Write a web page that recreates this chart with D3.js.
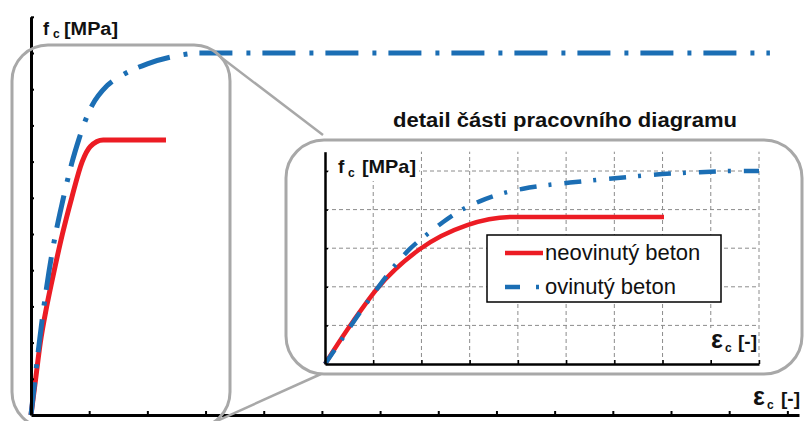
<!DOCTYPE html>
<html>
<head>
<meta charset="utf-8">
<script src="https://cdn.jsdelivr.net/npm/d3@7"></script>
<style>
  body { margin: 0; background: #fff; }
  svg { display: block; font-family: "Liberation Sans", Arial, sans-serif; }
</style>
</head>
<body>
<svg id="chart" width="804" height="421"></svg>
<script>
// main diagram (strain in tick units, stress in tick units)
var mainRedX = [0, 0.08, 0.16, 0.27, 0.40, 0.54, 0.70, 0.88, 1.02, 1.24, 2.32]
var mainRedY = [0, 1.0, 2.0, 3.0, 4.0, 5.0, 6.0, 7.0, 7.42, 7.6, 7.6]
var mainBlueX = [0, 0.07, 0.15, 0.27, 0.38, 0.55, 0.70, 0.82, 0.93, 1.05, 1.31, 1.56, 2.0, 2.5, 2.9, 12.7]
var mainBlueY = [0, 1.0, 2.1, 3.55, 4.64, 5.95, 6.95, 7.6, 8.12, 8.55, 9.1, 9.38, 9.7, 9.92, 10.0, 10.0]
var mainXTicks = [1, 2, 3, 4, 5, 6, 7, 8, 9, 10, 11, 12, 13]
var mainYTicks = [1, 2, 3, 4, 5, 6, 7, 8, 9, 10, 11]

// detail (inset)
var insetRedX = [0, 0.35, 0.58, 1.08, 1.97, 2.95, 3.9, 7.03]
var insetRedY = [0, 0.68, 1.1, 1.95, 2.98, 3.6, 3.81, 3.81]
var insetBlueX = [0, 0.35, 0.66, 1.14, 1.35, 1.76, 2.18, 2.45, 2.80, 3.22, 3.57, 4.11, 4.52, 5.08, 5.71, 6.33, 6.99, 7.61, 8.55, 9.0]
var insetBlueY = [0, 0.64, 1.22, 2.05, 2.4, 2.98, 3.42, 3.68, 3.97, 4.22, 4.38, 4.54, 4.62, 4.7, 4.78, 4.85, 4.92, 4.96, 5.0, 5.0]
var insetXTicks = [1, 2, 3, 4, 5, 6, 7, 8, 9]
var insetYTicks = [1, 2, 3, 4, 5]

var seriesNames = ['neovinutý beton', 'ovinutý beton']
var title = 'detail části pracovního diagramu'

var RED = '#ec1c24', BLUE = '#1b6eb4', FRAME = '#a8a8a8'

var svg = d3.select('#chart')

function zip(xs, ys) {
  return xs.map(function(x, i) { return [x, ys[i]] })
}

// ---------- main diagram ----------
var x = d3.scaleLinear().domain([0, 13.2]).range([31, 799])
var y = d3.scaleLinear().domain([0, 11]).range([415, 16.8])

var mainLine = d3.line()
  .x(function(d) { return x(d[0]) })
  .y(function(d) { return y(d[1]) })
  .curve(d3.curveMonotoneX)

svg.append('path')
  .attr('d', mainLine(zip(mainRedX, mainRedY)))
  .attr('fill', 'none').attr('stroke', RED).attr('stroke-width', 5)

svg.append('path')
  .attr('d', mainLine(zip(mainBlueX, mainBlueY)))
  .attr('fill', 'none').attr('stroke', BLUE).attr('stroke-width', 5)
  .attr('stroke-dasharray', '33,14,4,12')

var xAxis = svg.append('g')
  .attr('transform', 'translate(0,415)')
  .call(d3.axisTop(x).tickValues(mainXTicks).tickFormat('').tickSize(4).tickSizeOuter(0))
xAxis.select('.domain').attr('stroke', '#000').attr('stroke-width', 3)
xAxis.selectAll('.tick line').attr('stroke', '#000').attr('stroke-width', 2)

var yAxis = svg.append('g')
  .attr('transform', 'translate(31,0)')
  .call(d3.axisRight(y).tickValues(mainYTicks).tickFormat('').tickSize(3).tickSizeOuter(0))
yAxis.select('.domain').attr('stroke', '#000').attr('stroke-width', 3)
yAxis.selectAll('.tick line').attr('stroke', '#000').attr('stroke-width', 2)

// axis titles
svg.append('text').attr('x', 43).attr('y', 35)
  .attr('font-size', 18).attr('font-weight', 'bold').attr('fill', '#111').text('f')
svg.append('text').attr('x', 53).attr('y', 38)
  .attr('font-size', 12).attr('font-weight', 'bold').attr('fill', '#111').text('c')
svg.append('text').attr('x', 64).attr('y', 35)
  .attr('font-size', 18).attr('font-weight', 'bold').attr('fill', '#111')
  .attr('textLength', 54).attr('lengthAdjust', 'spacingAndGlyphs').text('[MPa]')

svg.append('text').attr('x', 753).attr('y', 405)
  .attr('font-size', 25).attr('font-weight', 'bold').attr('fill', '#111').text('ε')
svg.append('text').attr('x', 767).attr('y', 409)
  .attr('font-size', 12).attr('font-weight', 'bold').attr('fill', '#111').text('c')
svg.append('text').attr('x', 781).attr('y', 405)
  .attr('font-size', 19).attr('font-weight', 'bold').attr('fill', '#111').text('[-]')

// zoom frame on the main diagram
svg.append('rect')
  .attr('x', 12).attr('y', 45).attr('width', 218).attr('height', 383).attr('rx', 36)
  .attr('fill', 'none').attr('stroke', FRAME).attr('stroke-width', 3)

svg.append('line').attr('x1', 218).attr('y1', 55).attr('x2', 323).attr('y2', 135)
  .attr('stroke', FRAME).attr('stroke-width', 2.5)
svg.append('line').attr('x1', 208).attr('y1', 425).attr('x2', 321).attr('y2', 374)
  .attr('stroke', FRAME).attr('stroke-width', 2.5)

// ---------- inset ----------
svg.append('text')
  .attr('x', 393).attr('y', 127)
  .attr('font-size', 20).attr('font-weight', 'bold').attr('fill', '#111')
  .attr('textLength', 344).attr('lengthAdjust', 'spacingAndGlyphs')
  .text(title)

svg.append('rect')
  .attr('x', 286).attr('y', 140).attr('width', 516).attr('height', 234).attr('rx', 38)
  .attr('fill', '#fff').attr('stroke', FRAME).attr('stroke-width', 3)

var ix = d3.scaleLinear().domain([0, 9]).range([325, 759])
var iy = d3.scaleLinear().domain([0, 5.5]).range([364, 151.7])

var grid = svg.append('g')
  .attr('stroke', '#8c8c8c').attr('stroke-width', 1).attr('stroke-dasharray', '4,3')
grid.selectAll('line.v').data(insetXTicks).enter().append('line')
  .attr('class', 'v')
  .attr('x1', ix).attr('x2', ix)
  .attr('y1', iy(0)).attr('y2', iy(5.5))
grid.selectAll('line.h').data(insetYTicks).enter().append('line')
  .attr('class', 'h')
  .attr('x1', ix(0)).attr('x2', ix(9))
  .attr('y1', iy).attr('y2', iy)

// white boxes behind inset axis titles
svg.append('rect').attr('x', 330).attr('y', 151).attr('width', 89).attr('height', 30).attr('fill', '#fff')
svg.append('rect').attr('x', 706).attr('y', 328).attr('width', 51).attr('height', 30).attr('fill', '#fff')

var insetLine = d3.line()
  .x(function(d) { return ix(d[0]) })
  .y(function(d) { return iy(d[1]) })
  .curve(d3.curveMonotoneX)

svg.append('path')
  .attr('d', insetLine(zip(insetRedX, insetRedY)))
  .attr('fill', 'none').attr('stroke', RED).attr('stroke-width', 4.5)

svg.append('path')
  .attr('d', insetLine(zip(insetBlueX, insetBlueY)))
  .attr('fill', 'none').attr('stroke', BLUE).attr('stroke-width', 4.5)
  .attr('stroke-dasharray', '17,12,3,13')

var ixAxis = svg.append('g')
  .attr('transform', 'translate(0,364)')
  .call(d3.axisTop(ix).tickValues(insetXTicks).tickFormat('').tickSize(4).tickSizeOuter(0))
ixAxis.select('.domain').attr('stroke', '#000').attr('stroke-width', 2.5)
ixAxis.selectAll('.tick line').attr('stroke', '#000').attr('stroke-width', 1.5)

var iyAxis = svg.append('g')
  .attr('transform', 'translate(325,0)')
  .call(d3.axisRight(iy).tickValues(insetYTicks).tickFormat('').tickSize(3).tickSizeOuter(0))
iyAxis.select('.domain').attr('stroke', '#000').attr('stroke-width', 2.5)
iyAxis.selectAll('.tick line').attr('stroke', '#000').attr('stroke-width', 1.5)

svg.append('text').attr('x', 338).attr('y', 173)
  .attr('font-size', 19).attr('font-weight', 'bold').attr('fill', '#111').text('f')
svg.append('text').attr('x', 348).attr('y', 177)
  .attr('font-size', 12).attr('font-weight', 'bold').attr('fill', '#111').text('c')
svg.append('text').attr('x', 362).attr('y', 173)
  .attr('font-size', 19).attr('font-weight', 'bold').attr('fill', '#111')
  .attr('textLength', 54).attr('lengthAdjust', 'spacingAndGlyphs').text('[MPa]')

svg.append('text').attr('x', 711).attr('y', 348)
  .attr('font-size', 25).attr('font-weight', 'bold').attr('fill', '#111').text('ε')
svg.append('text').attr('x', 725).attr('y', 352)
  .attr('font-size', 12).attr('font-weight', 'bold').attr('fill', '#111').text('c')
svg.append('text').attr('x', 738).attr('y', 348)
  .attr('font-size', 19).attr('font-weight', 'bold').attr('fill', '#111').text('[-]')

// legend
var legend = svg.append('g')
legend.append('rect')
  .attr('x', 487).attr('y', 235).attr('width', 234).attr('height', 67)
  .attr('fill', '#fff').attr('stroke', '#000').attr('stroke-width', 1.5)
legend.append('line')
  .attr('x1', 505).attr('x2', 543).attr('y1', 253).attr('y2', 253)
  .attr('stroke', RED).attr('stroke-width', 4.5)
legend.append('line')
  .attr('x1', 505).attr('x2', 540).attr('y1', 287).attr('y2', 287)
  .attr('stroke', BLUE).attr('stroke-width', 4.5).attr('stroke-dasharray', '15,16,3,20')
legend.selectAll('text.lg').data(seriesNames).enter().append('text')
  .attr('class', 'lg')
  .attr('x', 545)
  .attr('y', function(d, i) { return 260 + i * 34 })
  .attr('font-size', 22).attr('fill', '#111')
  .text(function(d) { return d })
</script>
</body>
</html>
